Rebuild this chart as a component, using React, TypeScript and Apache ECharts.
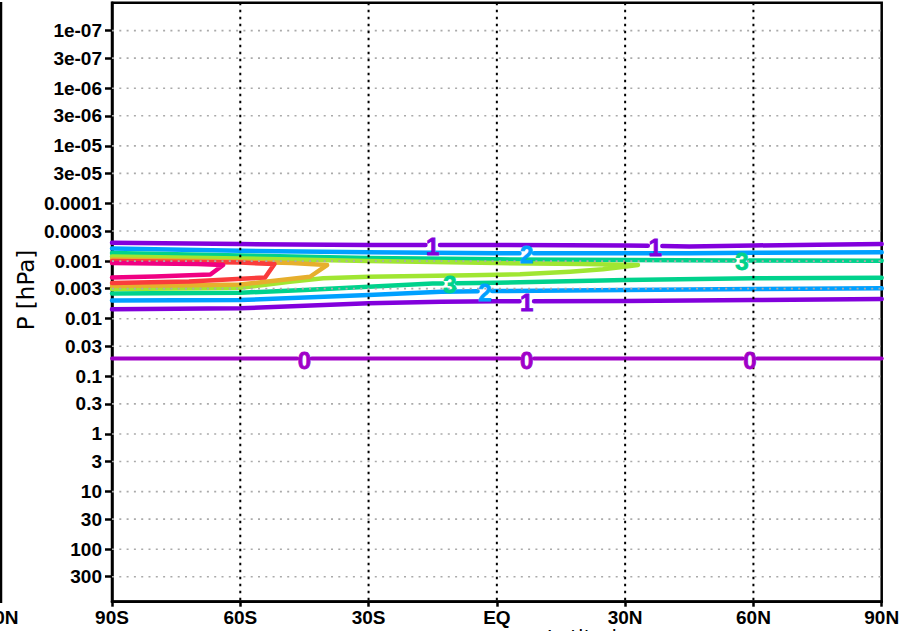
import React, { useEffect, useRef } from 'react';
import * as echarts from 'echarts';

type Pt = [number, number]; // [latitude, pressure in hPa]

// Latitude axis
const latTicks = [-90, -60, -30, 0, 30, 60, 90];
const latTickLabels = ['90S', '60S', '30S', 'EQ', '30N', '60N', '90N'];

// Pressure axis (hPa, log scale)
const pressureTicks = [1e-7, 3e-7, 1e-6, 3e-6, 1e-5, 3e-5, 1e-4, 3e-4, 1e-3, 3e-3, 0.01, 0.03, 0.1, 0.3, 1, 3, 10, 30, 100, 300];
const pressureTickLabels = ['1e-07', '3e-07', '1e-06', '3e-06', '1e-05', '3e-05', '0.0001', '0.0003', '0.001', '0.003', '0.01', '0.03', '0.1', '0.3', '1', '3', '10', '30', '100', '300'];
const pressureTop = 3.27e-8;
const pressureBottom = 815;

// Contour levels and their colours
const contourLevels = [0, 1, 2, 3, 4, 5, 6, 7];
const contourColors = ['#a000c8', '#8200dc', '#00a0ff', '#00d28c', '#a0e632', '#e6af2d', '#fa3c3c', '#f00082'];

// Contour paths
const contour0: Pt[] = [[-90, 0.049], [90, 0.049]];
const contour1Upper: Pt[] = [[-90, 4.8e-4], [-60, 5.05e-4], [-30, 5.25e-4], [0, 5.25e-4], [30, 5.35e-4], [45, 5.55e-4], [60, 5.35e-4], [75, 5.2e-4], [90, 5.05e-4]];
const contour1Lower: Pt[] = [[-90, 6.86e-3], [-60, 6.59e-3], [-30, 5.4e-3], [-13, 5.07e-3], [0, 4.99e-3], [30, 4.93e-3], [60, 4.74e-3], [90, 4.55e-3]];
const contour2Upper: Pt[] = [[-90, 6.04e-4], [-60, 6.6e-4], [-30, 7.03e-4], [0, 7.32e-4], [45, 7.32e-4], [60, 7.18e-4], [90, 7.03e-4]];
const contour2Lower: Pt[] = [[-90, 4.83e-3], [-60, 4.74e-3], [-30, 3.88e-3], [-13, 3.39e-3], [0, 3.3e-3], [30, 3.18e-3], [60, 3.05e-3], [90, 2.97e-3]];
const contour3Upper: Pt[] = [[-90, 7.24e-4], [-60, 8.0e-4], [-30, 8.84e-4], [0, 9.31e-4], [30, 9.57e-4], [60, 9.76e-4], [90, 9.84e-4]];
const contour3Lower: Pt[] = [[-90, 3.65e-3], [-60, 3.54e-3], [-45, 3.18e-3], [-30, 2.78e-3], [-15, 2.45e-3], [0, 2.37e-3], [30, 2.13e-3], [60, 1.99e-3], [90, 1.94e-3]];
const contour4: Pt[] = [[-90, 8.32e-4], [-60, 9.01e-4], [-30, 9.96e-4], [0, 1.079e-3], [20, 1.123e-3], [33, 1.169e-3], [28.8, 1.281e-3], [24.8, 1.388e-3], [17.1, 1.527e-3], [5.4, 1.694e-3], [-6.3, 1.764e-3], [-18, 1.813e-3], [-30, 1.866e-3], [-40.6, 1.988e-3], [-48.4, 2.277e-3], [-56, 2.673e-3], [-60, 2.895e-3], [-75, 3.0e-3], [-90, 3.05e-3]];
const contour5: Pt[] = [[-90, 9.38e-4], [-60, 1.016e-3], [-48, 1.079e-3], [-39.7, 1.169e-3], [-43.7, 1.866e-3], [-52, 2.2e-3], [-60, 2.549e-3], [-75, 2.651e-3], [-90, 2.705e-3]];
const contour6: Pt[] = [[-90, 0.996e-3], [-60, 1.057e-3], [-52, 1.123e-3], [-54.2, 1.927e-3], [-72, 2.259e-3], [-90, 2.399e-3]];
const contour7: Pt[] = [[-90, 1.079e-3], [-70, 1.123e-3], [-64, 1.169e-3], [-67, 1.707e-3], [-80, 1.85e-3], [-90, 1.927e-3]];

// Latitudes where the contour value is written on the line
const labels0 = [-45, 7, 59.2];
const labels1Upper = [-15, 37];
const labels1Lower = [7];
const labels2Upper = [7];
const labels2Lower = [-2.8];
const labels3Upper = [57.3];
const labels3Lower = [-11];

const contours: { level: number; path: Pt[]; labels: number[] }[] = [
  { level: 0, path: contour0, labels: labels0 },
  { level: 1, path: contour1Upper, labels: labels1Upper },
  { level: 1, path: contour1Lower, labels: labels1Lower },
  { level: 2, path: contour2Upper, labels: labels2Upper },
  { level: 2, path: contour2Lower, labels: labels2Lower },
  { level: 3, path: contour3Upper, labels: labels3Upper },
  { level: 3, path: contour3Lower, labels: labels3Lower },
  { level: 4, path: contour4, labels: [] },
  { level: 5, path: contour5, labels: [] },
  { level: 6, path: contour6, labels: [] },
  { level: 7, path: contour7, labels: [] },
];

const LABEL_GAP = 1.7; // half width (degrees) of the break left in a line around its label
const TICK_FONT = 'Liberation Sans';

const logP = (p: number) => Math.log10(p);

function interpLog(path: Pt[], lat: number): number {
  for (let i = 0; i < path.length - 1; i++) {
    const [a, pa] = path[i];
    const [b, pb] = path[i + 1];
    if (a !== b && (lat - a) * (lat - b) <= 0) {
      const t = (lat - a) / (b - a);
      return logP(pa) + t * (logP(pb) - logP(pa));
    }
  }
  return logP(path[0][1]);
}

function splitAtLabels(path: Pt[], labels: number[]): number[][][] {
  const pts = path.map(([lat, p]) => [lat, logP(p)]);
  if (!labels.length) return [pts];
  const start = path[0][0];
  const end = path[path.length - 1][0];
  const bounds: [number, number][] = [];
  let a = start;
  [...labels].sort((x, y) => x - y).forEach((L) => {
    bounds.push([a, L - LABEL_GAP]);
    a = L + LABEL_GAP;
  });
  bounds.push([a, end]);
  return bounds.map(([lo, hi]) => {
    const seg: number[][] = [[lo, interpLog(path, lo)]];
    pts.forEach((q) => {
      if (q[0] > lo && q[0] < hi) seg.push(q);
    });
    seg.push([hi, interpLog(path, hi)]);
    return seg;
  });
}

export default function App() {
  const ref = useRef<HTMLDivElement>(null);

  useEffect(() => {
    if (!ref.current) return;
    const chart = echarts.init(ref.current, undefined, { renderer: 'svg' });

    const yMin = logP(pressureTop);
    const yMax = logP(pressureBottom);
    const yTickValues = pressureTicks.map(logP);

    const series: any[] = [];

    // contour lines
    contours.forEach((c) => {
      const color = contourColors[contourLevels.indexOf(c.level)];
      splitAtLabels(c.path, c.labels).forEach((seg) => {
        series.push({
          type: 'line',
          data: seg,
          showSymbol: false,
          symbol: 'none',
          silent: true,
          z: 3,
          lineStyle: { color, width: c.level === 0 ? 4 : 4.5, cap: 'round', join: 'round' },
        });
      });
    });

    // horizontal pressure grid (drawn over the contours)
    pressureTicks.forEach((p) => {
      series.push({
        type: 'line',
        data: [[-90, logP(p)], [90, logP(p)]],
        showSymbol: false,
        symbol: 'none',
        silent: true,
        z: 4,
        lineStyle: { color: '#aaaaaa', width: 1.6, type: [2, 5.3] },
      });
    });

    // vertical latitude grid
    latTicks.slice(1, -1).forEach((lat) => {
      series.push({
        type: 'line',
        data: [[lat, yMin], [lat, yMax]],
        showSymbol: false,
        symbol: 'none',
        silent: true,
        z: 4,
        lineStyle: { color: '#000', width: 2, type: [2.5, 4.5] },
      });
    });

    // contour value labels: [lat, log10 p, level]
    const labelData: number[][] = [];
    contours.forEach((c) => {
      c.labels.forEach((lat) => {
        labelData.push([lat, interpLog(c.path, lat), c.level]);
      });
    });
    series.push({
      type: 'custom',
      data: labelData,
      silent: true,
      z: 6,
      renderItem: (_params: any, api: any) => {
        const pt = api.coord([api.value(0), api.value(1)]);
        const level = api.value(2);
        const color = contourColors[contourLevels.indexOf(level)];
        return {
          type: 'text',
          x: pt[0],
          y: pt[1] + 1.5,
          style: {
            text: String(level),
            fill: color,
            stroke: color,
            lineWidth: 0.8,
            fontSize: 24,
            fontWeight: 'bold',
            fontFamily: TICK_FONT,
            align: 'center',
            verticalAlign: 'middle',
          },
        };
      },
    });

    chart.setOption({
      animation: false,
      backgroundColor: '#fff',
      grid: {
        left: 112,
        right: 18.3,
        top: 2.7,
        bottom: 29.3,
        show: true,
        borderColor: '#000',
        borderWidth: 2.5,
        outerBoundsMode: 'none',
      },
      xAxis: {
        type: 'value',
        min: -90,
        max: 90,
        interval: 30,
        axisLine: { show: true, onZero: false, lineStyle: { color: '#000', width: 2.5 } },
        axisTick: { show: true, length: 5, lineStyle: { color: '#000', width: 2.5 } },
        splitLine: { show: false },
        axisLabel: {
          margin: 6,
          color: '#000',
          fontSize: 19,
          fontWeight: 'bold',
          fontFamily: TICK_FONT,
          formatter: (v: number) => {
            const i = latTicks.indexOf(Math.round(v));
            return i >= 0 ? latTickLabels[i] : '';
          },
        },
      },
      yAxis: {
        type: 'value',
        min: yMin,
        max: yMax,
        inverse: true,
        axisLine: { show: true, onZero: false, lineStyle: { color: '#000', width: 2.5 } },
        axisTick: { show: true, length: 7, customValues: yTickValues, lineStyle: { color: '#000', width: 2.5 } },
        splitLine: { show: false },
        axisLabel: {
          customValues: yTickValues,
          margin: 10,
          color: '#000',
          fontSize: 19,
          fontWeight: 'bold',
          fontFamily: TICK_FONT,
          formatter: (v: number) => {
            let best = 0;
            yTickValues.forEach((t, i) => {
              if (Math.abs(t - v) < Math.abs(yTickValues[best] - v)) best = i;
            });
            return pressureTickLabels[best];
          },
        },
      },
      graphic: [
        {
          type: 'text',
          x: 26,
          y: 290,
          rotation: Math.PI / 2,
          style: {
            text: 'P [hPa]',
            fill: '#000',
            fontSize: 23,
            fontFamily: 'DejaVu Sans',
            align: 'center',
            verticalAlign: 'middle',
            textAlign: 'center',
            textVerticalAlign: 'middle',
          },
        },
        {
          type: 'text',
          x: 588,
          y: 627,
          style: {
            text: 'Latitude',
            fill: '#000',
            fontSize: 20,
            fontFamily: 'DejaVu Sans',
            align: 'center',
            verticalAlign: 'top',
            textAlign: 'center',
            textVerticalAlign: 'top',
          },
        },
        // neighbouring panel's right edge and its last latitude label
        {
          type: 'line',
          shape: { x1: 1, y1: 2, x2: 1, y2: 603 },
          style: { stroke: '#000', lineWidth: 2.5 },
        },
        {
          type: 'text',
          x: 1,
          y: 617.5,
          style: {
            text: '90N',
            fill: '#000',
            fontSize: 19,
            fontWeight: 'bold',
            fontFamily: TICK_FONT,
            align: 'center',
            verticalAlign: 'middle',
            textAlign: 'center',
            textVerticalAlign: 'middle',
          },
        },
      ],
      series,
    });

    return () => chart.dispose();
  }, []);

  return (
    <div
      ref={ref}
      style={{ position: 'absolute', left: 0, top: 0, width: 900, height: 631, background: '#fff' }}
    />
  );
}
